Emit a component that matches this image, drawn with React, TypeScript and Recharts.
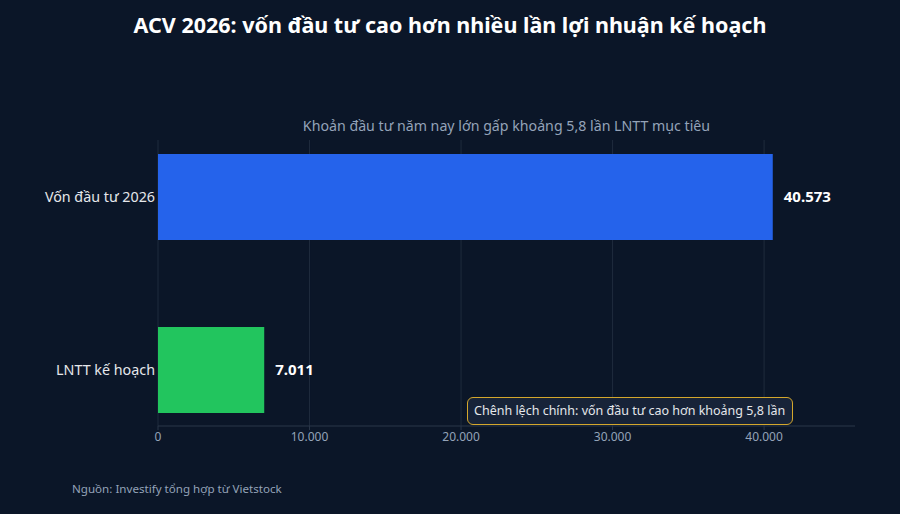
import React from 'react';
import { BarChart, Bar, XAxis, YAxis, CartesianGrid, LabelList, Cell } from 'recharts';

const categories = ['Vốn đầu tư 2026', 'LNTT kế hoạch'];
const values = [40573, 7011];
const barColors = ['#2563eb', '#22c55e'];
const xTicks = [0, 10000, 20000, 30000, 40000];

const data = categories.map((name, i) => ({ name, value: values[i] }));

const fmt = (v: number) => v.toLocaleString('de-DE');
const font = '"Noto Sans", "Open Sans", sans-serif';

export default function App() {
  return (
    <div style={{ position: 'absolute', left: 0, top: 0, width: 900, height: 514, background: '#0b1628', fontFamily: font, overflow: 'hidden' }}>
      <div style={{ position: 'absolute', top: 10, width: 900, textAlign: 'center', color: '#ffffff', fontWeight: 700, fontSize: 21.5 }}>
        ACV 2026: vốn đầu tư cao hơn nhiều lần lợi nhuận kế hoạch
      </div>
      <div style={{ position: 'absolute', top: 116, left: 158, width: 697, textAlign: 'center', color: '#94a3b8', fontSize: 14.2 }}>
        Khoản đầu tư năm nay lớn gấp khoảng 5,8 lần LNTT mục tiêu
      </div>
      <BarChart
        width={900}
        height={514}
        data={data}
        layout="vertical"
        margin={{ top: 140, right: 45, bottom: 58, left: 0 }}
      >
        <CartesianGrid horizontal={false} verticalValues={xTicks} stroke="#1f2b3d" strokeWidth={1} />
        <XAxis
          type="number"
          domain={[0, 46000]}
          ticks={xTicks}
          tickFormatter={fmt}
          height={30}
          stroke="#2a3649"
          tickLine={{ stroke: '#2a3649' }}
          tickSize={4}
          tick={{ fill: '#94a3b8', fontSize: 12, fontFamily: font }}
          allowDataOverflow
        />
        <YAxis
          type="category"
          dataKey="name"
          width={158}
          axisLine={false}
          tickLine={false}
          tickSize={0}
          tickMargin={3}
          padding={{ top: -30, bottom: -30 }}
          tick={{ fill: '#e5e7eb', fontSize: 14.3, fontFamily: font }}
        />
        <Bar dataKey="value" barSize={86} isAnimationActive={false}>
          {data.map((d, i) => (
            <Cell key={d.name} fill={barColors[i]} />
          ))}
          <LabelList
            dataKey="value"
            position="right"
            offset={11}
            formatter={(v: any) => fmt(Number(v))}
            style={{ fill: '#ffffff', fontSize: 15, fontWeight: 700, fontFamily: font }}
          />
        </Bar>
      </BarChart>
      <div
        style={{
          position: 'absolute',
          left: 467,
          top: 397,
          width: 326,
          height: 28,
          boxSizing: 'border-box',
          border: '1.5px solid #d4a72c',
          borderRadius: 6,
          background: '#172338',
          color: '#e5e7eb',
          fontSize: 12.5,
          lineHeight: '25px',
          paddingLeft: 6,
          whiteSpace: 'nowrap',
        }}
      >
        Chênh lệch chính: vốn đầu tư cao hơn khoảng 5,8 lần
      </div>
      <div style={{ position: 'absolute', left: 72, top: 481, color: '#94a3b8', fontSize: 11.6 }}>
        Nguồn: Investify tổng hợp từ Vietstock
      </div>
    </div>
  );
}
